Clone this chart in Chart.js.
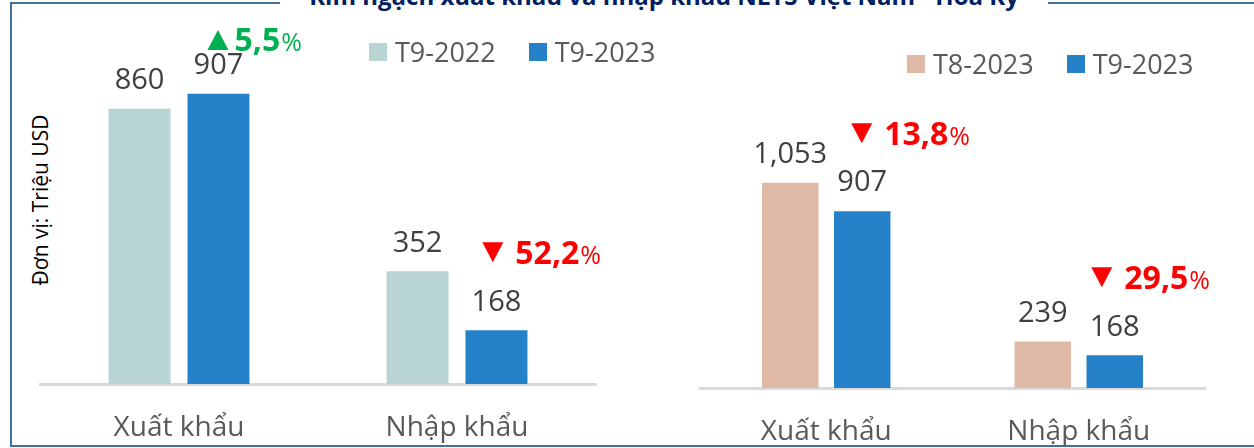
<!DOCTYPE html>
<html>
<head>
<meta charset="utf-8">
<script src="https://cdn.jsdelivr.net/npm/chart.js@4.4.0/dist/chart.umd.min.js"></script>
<style>
  body { margin: 0; width: 1254px; height: 448px; position: relative; overflow: hidden; background: #fff; font-family: 'Open Sans', sans-serif; }
  .frame { position: absolute; left: 10px; top: 2px; width: 1270px; height: 441px; border: 2px solid #41719C; }
  .title { position: absolute; left: 280px; top: -17px; width: 768px; height: 26px; line-height: 26px; background: #fff;
           font-weight: bold; font-size: 24px; color: #002060; text-align: center; white-space: nowrap; overflow: visible; }
  .box { position: absolute; }
  .legend { position: absolute; display: flex; align-items: center; font-size: 27px; color: #595959; white-space: nowrap; }
  .legend .item { display: flex; align-items: center; margin-right: 33px; }
  .legend .sw { width: 18px; height: 18px; margin-right: 8px; }
  .ytitle { position: absolute; left: 40px; top: 200px; transform: translate(-50%, -50%) rotate(-90deg); font-family: 'Open Sans', sans-serif; font-size: 21px; color: #000; white-space: nowrap; }
</style>
</head>
<body>
<div class="frame"></div>
<div class="title">Kim ngạch xuất khẩu và nhập khẩu NLTS Việt Nam - Hoa Kỳ</div>
<div class="ytitle">Đơn vị: Triệu USD</div>
<div class="box" style="left:0;top:0"><canvas id="yoy" width="620" height="448"></canvas></div>
<div class="box" style="left:660px;top:0"><canvas id="mom" width="594" height="448"></canvas></div>
<div class="legend" id="yoyLegend" style="left:369px;top:33px"></div>
<div class="legend" id="momLegend" style="left:907px;top:45px"></div>
<script>
const categories = ['Xuất khẩu', 'Nhập khẩu']

const yoyLabels = ['T9-2022', 'T9-2023']
const yoyPrev = [860, 352]
const yoyCurr = [907, 168]
const yoyChange = ['5,5', '52,2']
const yoyUp = [true, false]

const momLabels = ['T8-2023', 'T9-2023']
const momPrev = [1053, 239]
const momCurr = [907, 168]
const momChange = ['13,8', '29,5']
const momUp = [false, false]

const FONT = "'Open Sans', sans-serif"

const barLabels = {
  id: 'barLabels',
  afterDatasetsDraw(chart) {
    const ctx = chart.ctx
    ctx.save()
    ctx.font = `29px ${FONT}`
    ctx.fillStyle = '#404040'
    ctx.textAlign = 'center'
    ctx.textBaseline = 'alphabetic'
    chart.data.datasets.forEach((ds, i) => {
      chart.getDatasetMeta(i).data.forEach((bar, j) => {
        ctx.fillText(ds.data[j].toLocaleString('en-US'), bar.x, bar.y - 30 + 0.357 * 29)
      })
    })
    ctx.restore()
  }
}

// arrow + percent change, placed over the second bar of each group
const changeMarks = {
  id: 'changeMarks',
  afterDatasetsDraw(chart, args, opts) {
    const ctx = chart.ctx
    const bars = chart.getDatasetMeta(1).data
    ctx.save()
    opts.values.forEach((v, j) => {
      const bar = bars[j]
      const up = opts.up[j]
      const gap = up ? 27 : 33
      ctx.font = `bold 32px ${FONT}`
      const w = ctx.measureText(v).width
      ctx.font = `25px ${FONT}`
      const pw = ctx.measureText('%').width
      const total = gap + w + 1 + pw
      const x0 = Math.min(bar.x - 11, chart.chartArea.right + 5 - total)
      const yc = Math.max(bar.y - 78, 40)
      ctx.fillStyle = up ? '#00B050' : '#FF0000'
      ctx.beginPath()
      if (up) {
        ctx.moveTo(x0, yc + 10); ctx.lineTo(x0 + 21, yc + 10); ctx.lineTo(x0 + 10.5, yc - 10)
      } else {
        ctx.moveTo(x0, yc - 10); ctx.lineTo(x0 + 21, yc - 10); ctx.lineTo(x0 + 10.5, yc + 10)
      }
      ctx.closePath()
      ctx.fill()
      const base = yc + 0.357 * 32
      ctx.textAlign = 'left'
      ctx.textBaseline = 'alphabetic'
      ctx.font = `bold 32px ${FONT}`
      ctx.fillText(v, x0 + gap, base)
      ctx.font = `25px ${FONT}`
      ctx.fillText('%', x0 + gap + w + 1, base)
    })
    ctx.restore()
  }
}

function makeChart(id, labels, prev, curr, colors, opt) {
  return new Chart(document.getElementById(id), {
    type: 'bar',
    data: {
      labels: categories,
      datasets: [
        { label: labels[0], data: prev, backgroundColor: colors[0] },
        { label: labels[1], data: curr, backgroundColor: colors[1] }
      ]
    },
    options: {
      responsive: false,
      animation: false,
      layout: { padding: opt.padding },
      datasets: { bar: { categoryPercentage: opt.cat, barPercentage: 0.785 } },
      plugins: {
        legend: { display: false },
        tooltip: { enabled: false },
        changeMarks: { values: opt.change, up: opt.up }
      },
      scales: {
        y: { display: false, min: 0, max: opt.max },
        x: {
          grid: { display: false, drawTicks: false },
          border: { color: '#D9D9D9', width: 3 },
          ticks: { color: '#595959', font: { family: FONT, size: 28 }, padding: 27 },
          afterFit: s => { s.height = opt.axisH }
        }
      }
    },
    plugins: [barLabels, changeMarks]
  })
}

const yoyChart = makeChart('yoy', yoyLabels, yoyPrev, yoyCurr, ['#B8D5D4', '#2682C8'],
  { padding: { left: 40, right: 24, top: 64, bottom: 0 }, cat: 0.568, max: 1000, axisH: 64, change: yoyChange, up: yoyUp })
const momChart = makeChart('mom', momLabels, momPrev, momCurr, ['#DFB9A6', '#2682C8'],
  { padding: { left: 40, right: 49, top: 154, bottom: 0 }, cat: 0.57, max: 1200, axisH: 60, change: momChange, up: momUp })

function buildLegend(chart, elId) {
  const el = document.getElementById(elId)
  chart.data.datasets.forEach(ds => {
    const item = document.createElement('div')
    item.className = 'item'
    const sw = document.createElement('span')
    sw.className = 'sw'
    sw.style.background = ds.backgroundColor
    const t = document.createElement('span')
    t.textContent = ds.label
    item.appendChild(sw)
    item.appendChild(t)
    el.appendChild(item)
  })
}
buildLegend(yoyChart, 'yoyLegend')
buildLegend(momChart, 'momLegend')
</script>
</body>
</html>
